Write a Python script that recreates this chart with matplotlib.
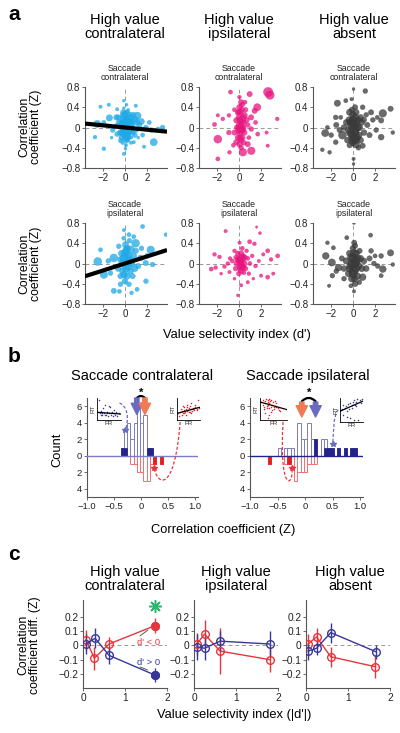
import matplotlib
matplotlib.use("Agg")
import matplotlib.pyplot as plt
import numpy as np
from matplotlib.patches import FancyArrowPatch, PathPatch
from matplotlib.path import Path

plt.rcParams['font.family'] = ['Liberation Sans', 'DejaVu Sans']

# ---------------- panel a : (d', Z, size) per cell ----------------
hvc_sc = [(-2.5,0.07,18),(-2.7,-0.19,5),(-1.9,-0.42,5),(-2.2,0.41,4),(-1.45,0.45,4),(-1.9,0.1,6),(-1.4,0.19,14),
          (-1.1,-0.05,8),(-0.78,0.2,10),(-0.7,0.36,4),(-0.7,-0.13,8),(-0.5,0.1,14),(-0.4,-0.26,6),(-0.3,0.05,20),
          (-0.3,-0.1,10),(-0.2,0.25,8),(-0.2,-0.3,5),(-0.1,0.53,3),(-0.1,0.38,3),(-0.09,-0.52,4),(-0.05,0.15,12),
          (-0.05,-0.05,20),(0.0,0.1,16),(0.0,-0.2,12),(0.05,0.3,6),(0.1,0.0,22),(0.1,-0.35,4),(0.15,0.2,10),
          (0.2,0.3,8),(0.2,-0.1,18),(0.25,0.05,14),(0.3,-0.2,10),(0.35,0.12,12),(0.36,-0.19,6),(0.4,0.0,16),
          (0.45,-0.08,10),(0.5,0.2,14),(0.55,-0.3,4),(0.6,0.1,8),(0.66,0.14,8),(0.7,-0.1,10),(0.8,-0.29,4),
          (0.9,0.15,16),(0.98,0.43,4),(1.0,-0.05,8),(1.12,0.23,20),(1.3,0.05,10),(1.5,0.12,12),(1.6,-0.15,6),
          (1.73,-0.38,4),(1.9,0.0,8),(2.2,0.1,6),(2.4,-0.05,8),(2.6,-0.29,18),(3.0,-0.03,6),(3.4,0.0,8),
          (-0.6,0.0,3),(-0.35,0.2,3),(0.15,0.45,3),(0.3,0.35,3),(0.6,-0.2,3),(-0.15,-0.15,3),(0.8,0.05,3),
          (-0.8,0.05,3),(0.05,-0.42,3),(0.25,-0.25,3),(1.2,-0.2,3),(-1.2,-0.2,3),(0.0,0.05,25),(0.1,0.1,25),
          (-0.1,-0.1,25),(0.2,0.15,20),(0.3,-0.05,20),(-0.2,0.1,18),(0.05,-0.15,20),(0.4,0.25,12),(-0.4,-0.1,12),
          (0.6,-0.05,14),(0.15,-0.25,12),(-0.15,0.3,10),(0.5,0.05,16),(-0.6,0.2,10),(0.75,0.25,10),(0.0,0.22,14),
          (0.25,-0.15,16),(-0.3,-0.2,10),(0.9,-0.15,8),(1.1,0.1,10)]
hvi_sc = [(2.64,0.70,30),(2.8,0.64,25),(-0.76,0.70,6),(0.05,0.6,5),(0.97,0.66,10),(0.2,0.5,10),(0.06,0.4,12),
          (0.3,0.45,8),(1.66,0.4,18),(1.42,0.33,10),(-0.9,0.24,5),(-1.9,0.24,4),(-1.45,0.17,5),(-2.2,0.06,6),
          (3.46,0.17,5),(0.5,0.24,12),(1.1,0.2,10),(-0.24,0.14,10),(0.06,0.04,18),(0.36,-0.03,14),(-0.39,-0.1,10),
          (-0.9,-0.1,8),(1.12,-0.03,8),(1.7,-0.13,6),(2.5,-0.1,4),(-1.9,-0.23,22),(-0.24,-0.29,10),(0.06,-0.33,12),
          (0.8,-0.33,10),(2.6,-0.36,4),(-0.85,-0.49,5),(0.36,-0.49,20),(1.12,-0.46,20),(-1.9,-0.62,6),
          (0.0,0.2,12),(0.2,0.1,14),(0.1,-0.1,16),(0.3,-0.2,12),(-0.1,0.3,10),(0.4,0.1,12),(0.15,0.3,10),
          (-0.1,-0.2,10),(0.25,-0.05,14),(0.5,-0.1,10),(0.0,-0.05,14),(0.6,0.35,8),(0.7,0.15,10),(0.45,-0.3,8),
          (-0.2,0.0,8),(0.8,0.05,8),(0.35,0.2,12),(0.1,0.15,14),(0.2,-0.25,10),(-0.4,0.35,6),(0.9,-0.2,6),
          (0.55,0.5,6),(0.0,0.0,12),(1.5,0.1,6),(-0.5,-0.35,6),(0.25,0.35,10),(0.1,-0.2,12),(0.35,0.0,12),
          (0.0,0.3,10),(0.2,-0.4,8)]
hva_sc = [(0.06,0.76,3),(1.12,0.72,8),(-1.4,0.48,14),(-0.64,0.53,6),(-0.12,0.56,4),(0.88,0.4,8),(1.64,0.3,10),
          (2.7,0.28,20),(3.4,0.37,10),(-1.55,0.2,8),(-1.1,0.2,6),(2.55,0.14,10),(-2.3,0.0,6),(3.6,-0.1,5),
          (-2.5,-0.11,18),(-1.96,-0.15,8),(-0.94,-0.15,22),(2.55,-0.19,12),(-1.55,-0.29,8),(-2.76,-0.44,5),
          (-2.1,-0.49,5),(0.27,-0.33,20),(0.88,-0.36,10),(0.06,-0.62,4),(0.06,-0.72,3),
          (-0.3,0.3,14),(0.0,0.25,16),(0.3,0.3,12),(0.5,0.15,14),(-0.2,0.1,20),(0.1,0.05,25),(0.2,-0.1,22),
          (-0.1,-0.15,22),(0.4,-0.2,16),(0.0,-0.3,14),(-0.4,-0.05,16),(0.6,0.0,14),(0.8,0.1,12),(1.0,-0.1,12),
          (1.3,0.05,10),(1.5,-0.15,10),(-0.6,0.1,12),(-0.8,0.0,12),(-1.2,-0.05,10),(-1.5,0.05,10),(0.2,0.4,10),
          (-0.5,-0.25,12),(0.7,-0.25,12),(1.8,0.15,8),(2.1,-0.05,8),(0.1,-0.2,25),(-0.1,0.05,25),(0.3,0.1,20),
          (1.2,0.25,8),(-0.3,-0.35,10),(0.5,-0.4,8),(2.2,0.2,6),(0.0,0.15,22),(0.2,0.2,18),(-0.2,-0.1,22),
          (0.15,-0.05,25),(0.4,0.0,20),(-0.05,-0.25,18),(0.25,-0.25,18),(0.55,-0.15,14),(-0.35,0.15,14),
          (0.7,0.2,12),(1.0,0.15,10),(-0.1,0.35,10)]
hvc_si = [(2.58,0.99,18),(2.73,0.89,22),(3.7,0.57,5),(1.6,0.73,6),(-0.09,0.66,4),(0.37,0.57,6),(0.8,0.53,6),
          (-2.2,0.27,6),(-0.55,0.34,8),(0.96,0.4,22),(0.06,0.37,14),(0.5,0.27,22),(2.33,0.27,20),(-2.45,0.04,22),
          (-1.0,0.11,22),(-0.4,0.08,12),(1.42,0.11,12),(1.88,0.01,10),(2.5,-0.02,8),(-1.9,-0.22,20),(-1.3,-0.19,8),
          (-0.09,-0.22,16),(0.5,-0.15,14),(1.9,-0.35,8),(-0.4,-0.41,8),(0.37,-0.41,8),(-1.0,-0.54,10),(1.1,-0.51,6),
          (-0.5,-0.55,6),(0.6,-0.58,5),
          (0.0,0.2,20),(0.2,0.1,22),(-0.2,0.0,20),(0.3,-0.05,20),(0.1,-0.1,18),(-0.3,0.2,14),(0.6,0.0,16),
          (0.8,0.15,12),(0.9,-0.1,14),(1.2,-0.05,10),(-0.6,-0.1,12),(0.0,-0.35,12),(0.4,0.45,8),(-0.1,0.5,6),
          (1.5,0.3,8),(-1.5,0.05,8),(0.2,0.3,14),(-0.1,0.1,22),(0.5,0.05,18),(1.0,0.25,10),(2.0,0.15,8),
          (0.1,0.25,18),(0.3,0.15,20),(-0.2,-0.15,14),(0.2,-0.25,14),(0.7,-0.25,10),(-0.4,-0.25,10)]
hvi_si = [(-1.2,0.64,4),(1.6,0.72,2),(1.9,0.6,3),(0.06,0.41,4),(0.97,0.43,6),(1.4,0.39,5),(2.6,0.25,6),
          (-2.2,0.18,5),(-1.75,0.13,5),(2.2,0.18,4),(3.5,0.15,6),(2.9,0.08,5),(-2.5,-0.11,6),(-2.1,-0.08,5),
          (-1.3,-0.06,5),(-0.85,-0.17,4),(3.1,-0.2,4),(2.6,-0.27,6),(2.0,-0.24,4),(0.8,-0.37,4),(0.2,-0.43,4),
          (-0.09,-0.63,3),(1.3,-0.3,3),(-1.6,-0.2,3),(-0.4,-0.3,3),
          (0.0,0.1,10),(0.2,0.05,12),(0.3,-0.05,12),(0.1,-0.1,10),(-0.2,0.0,10),(0.4,0.15,8),(0.5,0.0,10),
          (-0.1,0.2,8),(0.6,-0.1,8),(0.2,0.2,10),(-0.3,-0.1,8),(0.8,0.1,6),(1.0,0.0,6),(1.2,0.15,5),(-0.6,0.05,6),
          (-0.8,0.1,5),(0.3,0.3,6),(0.0,-0.2,8),(0.7,0.25,5),(1.5,-0.05,5),(-1.0,0.0,5),(0.15,0.0,14),
          (0.35,0.08,12),(0.45,-0.18,6),(-0.4,0.25,5),(1.8,0.05,4),(0.9,-0.2,5),(0.05,0.05,14),(0.25,0.12,12),
          (0.1,-0.05,12),(0.4,-0.08,10),(-0.1,0.08,10),(0.55,0.12,8),(0.2,-0.15,10),(-0.25,0.12,8)]
hva_si = [(0.09,0.8,3),(1.6,0.56,6),(-0.55,0.51,6),(0.12,0.41,10),(-2.3,0.41,5),(-1.76,0.31,6),(3.4,0.21,14),
          (2.55,0.15,8),(1.64,0.25,8),(-2.45,0.15,16),(-1.9,0.02,18),(-1.3,-0.08,16),(2.7,-0.11,16),(2.24,-0.05,8),
          (3.6,-0.02,5),(-1.85,-0.24,8),(-0.8,-0.3,8),(0.88,-0.27,16),(0.58,-0.37,8),(-0.18,-0.44,6),
          (-2.15,-0.44,4),(2.55,-0.24,6),(0.1,-0.55,4),
          (0.0,0.1,22),(0.2,0.0,25),(-0.2,-0.05,22),(0.1,-0.15,25),(0.3,0.2,16),(-0.3,0.2,14),(0.5,-0.05,18),
          (0.7,0.1,14),(0.4,-0.25,16),(-0.4,-0.2,14),(-0.6,0.05,14),(1.0,0.05,12),(1.2,-0.1,12),(1.5,0.1,10),
          (-1.0,0.1,10),(0.0,0.3,12),(0.2,0.35,10),(0.6,0.25,10),(-0.1,-0.3,16),(0.8,-0.1,14),(1.9,0.0,8),
          (-0.8,-0.1,12),(0.3,0.05,25),(-0.05,0.0,25),(0.15,-0.3,14),(2.0,0.15,6),(-1.5,-0.15,8),
          (0.1,0.2,20),(0.25,-0.1,22),(-0.15,0.12,20),(0.0,-0.2,22),(0.45,0.1,16),(0.2,-0.4,12),(-0.3,-0.1,16)]
# regression fits (slope, intercept)
fit_hvc_sc = (-0.0216, 0.0)
fit_hvc_si = (0.07, 0.0)

# ---------------- panel b : histograms ----------------
b1_centers = [-0.35, -0.29, -0.23, -0.17, -0.11, -0.05, 0.01, 0.07, 0.13, 0.19, 0.25, 0.31, 0.37]
b1_blue = [1, 3, 4, 2, 4, 6, 4, 5, 1, 1, 0, 0, 0]
b1_blue_sig = [1, 1, 0, 0, 0, 0, 0, 0, 1, 1, 0, 0, 0]
b1_red = [0, 0, 0, 1, 1, 2, 2, 3, 3, 1, 1, 0, 1]
b1_red_sig = [0, 0, 0, 0, 0, 0, 0, 0, 0, 0, 1, 0, 1]

b2_centers = [-0.65, -0.59, -0.53, -0.47, -0.41, -0.35, -0.29, -0.23, -0.17, -0.11, -0.05, 0.01, 0.07, 0.13,
              0.19, 0.25, 0.31, 0.37, 0.43, 0.49, 0.55, 0.61, 0.67, 0.73, 0.79, 0.85, 0.91, 0.97]
b2_blue = [0, 0, 0, 1, 0, 1, 1, 1, 0, 4, 2, 2, 4, 2, 2, 0, 2, 2, 1, 1, 0, 1, 0, 1, 0, 1, 1, 0]
b2_blue_sig = [0, 0, 0, 0, 0, 0, 0, 0, 0, 0, 0, 0, 0, 0, 2, 0, 0, 1, 1, 1, 0, 1, 0, 1, 0, 1, 1, 0]
b2_red = [1, 0, 0, 0, 0, 1, 1, 0, 3, 2, 2, 2, 1, 1, 1, 0, 0, 0, 0, 0, 0, 0, 0, 0, 0, 0, 0, 0]
b2_red_sig = [1, 0, 0, 0, 0, 0, 1, 0, 0, 0, 0, 0, 0, 0, 0, 0, 0, 0, 0, 0, 0, 0, 0, 0, 0, 0, 0, 0]

# median arrows (orange = red pop., blue = blue pop.)
b1_med_orange, b1_med_blue = 0.07, -0.08
b2_med_orange, b2_med_blue = -0.06, 0.19

# example neurons (FR, RT) for insets
ex1_fr = [0.05,0.1,0.12,0.18,0.22,0.25,0.3,0.33,0.38,0.42,0.45,0.5,0.55,0.58,0.62,0.66,0.7,0.75,0.8,0.85,0.9,
          0.2,0.35,0.48,0.6,0.15,0.4,0.72]
ex1_rt = [0.35,0.9,0.3,0.4,0.25,0.55,0.3,0.7,0.25,0.35,0.2,0.3,0.6,0.25,0.35,0.2,0.3,0.25,0.35,0.2,0.3,
          0.3,0.25,0.65,0.3,0.25,0.3,0.45]
ex2_fr = [0.05,0.1,0.15,0.2,0.22,0.25,0.3,0.32,0.35,0.4,0.42,0.45,0.5,0.52,0.55,0.6,0.62,0.65,0.7,0.75,0.8,
          0.85,0.9,0.95,0.3,0.38,0.48,0.58,0.68,0.78,0.88,0.18,0.28,0.45,0.6]
ex2_rt = [0.3,0.2,0.35,0.25,0.4,0.3,0.45,0.6,0.35,0.5,0.7,0.4,0.55,0.35,0.65,0.5,0.75,0.4,0.55,0.45,0.6,
          0.5,0.9,0.55,0.3,0.25,0.45,0.35,0.5,0.7,0.45,0.5,0.65,0.6,0.3]
ex3_fr = [0.05,0.1,0.12,0.15,0.18,0.2,0.22,0.25,0.28,0.3,0.32,0.35,0.38,0.4,0.42,0.45,0.48,0.5,0.55,0.6,0.65,
          0.7,0.75,0.2,0.3,0.4,0.5,0.15,0.25,0.35,0.45,0.6,0.35,0.55,0.28]
ex3_rt = [0.8,0.7,0.9,0.6,0.85,0.75,0.95,0.65,0.8,0.9,0.55,0.75,0.85,0.6,0.9,0.7,0.8,0.5,0.65,0.75,0.55,
          0.45,0.4,0.3,0.1,0.35,0.6,0.5,0.55,0.25,0.45,0.6,0.95,0.85,0.7]
ex4_fr = [0.05,0.1,0.15,0.2,0.25,0.3,0.35,0.4,0.45,0.5,0.55,0.6,0.65,0.7,0.75,0.8,0.85,0.9,0.95,0.3,0.45,
          0.6,0.12,0.7,0.5]
ex4_rt = [0.5,0.55,0.3,0.6,0.65,0.2,0.75,0.55,0.8,0.6,0.85,0.9,0.7,0.85,0.95,0.1,0.9,0.8,0.95,0.45,0.15,
          0.1,0.7,0.65,0.7]
ex_fits = [(-0.08, 0.35), (0.28, 0.3), (-0.35, 0.82), (0.42, 0.45)]

# ---------------- panel c ----------------
c_titles = ['High value\ncontralateral', 'High value\nipsilateral', 'High value\nabsent']
c_red_x = [[0.07, 0.27, 0.62, 1.72], [0.07, 0.25, 0.62, 1.8], [0.05, 0.25, 0.59, 1.65]]
c_red_y = [[0.04, -0.09, 0.01, 0.14], [0.01, 0.08, -0.04, -0.10], [0.01, 0.06, -0.08, -0.15]]
c_red_e = [[0.07, 0.08, 0.05, 0.05], [0.08, 0.10, 0.16, 0.09], [0.07, 0.06, 0.07, 0.08]]
c_blue_x = [[0.07, 0.29, 0.62, 1.72], [0.07, 0.25, 0.62, 1.8], [0.05, 0.25, 0.59, 1.67]]
c_blue_y = [[0.01, 0.05, -0.07, -0.21], [-0.01, -0.02, 0.03, 0.01], [-0.04, -0.02, 0.09, -0.045]]
c_blue_e = [[0.07, 0.07, 0.06, 0.05], [0.09, 0.08, 0.07, 0.09], [0.06, 0.05, 0.07, 0.05]]

CYAN, MAG, GRAY = '#1fa9e6', '#e8157f', '#3a3a3a'
RED, NAVY = '#e8353b', '#383898'
LBLUE, DBLUE = '#7c7cc8', '#23238a'
ORANGE, PURP = '#f07a55', '#6a6ac0'
SPINE = '#555555'

W, H = 400, 733
fig = plt.figure(figsize=(4, 7.33), dpi=100)


def px_axes(left, top, w, h):
    return fig.add_axes([left / W, 1 - (top + h) / H, w / W, h / H])


def style(ax, fs=7):
    for sp in ['top', 'right']:
        ax.spines[sp].set_visible(False)
    for sp in ['left', 'bottom']:
        ax.spines[sp].set_color(SPINE)
        ax.spines[sp].set_linewidth(0.8)
    ax.tick_params(length=2, width=0.6, color=SPINE, labelsize=fs, pad=1.5, labelcolor='#222222')


def ftext(x, y, s, **kw):
    fig.text(x / W, 1 - y / H, s, ha='center', va='center', **kw)


# ---------- panel a ----------
col_left = [85, 199, 313]
col_mid = [125, 239, 354]
rows = [(87, [hvc_sc, hvi_sc, hva_sc], [fit_hvc_sc, None, None], 'contralateral', 73),
        (223, [hvc_si, hvi_si, hva_si], [fit_hvc_si, None, None], 'ipsilateral', 209)]
colors = [CYAN, MAG, GRAY]
for top, data, fits, sub, suby in rows:
    for j in range(3):
        ax = px_axes(col_left[j], top, 82, 81)
        style(ax)
        x, y, s = np.array(data[j]).T
        ax.axhline(0, color='#999999', lw=0.7, ls=(0, (4, 3)), zorder=0)
        ax.axvline(0, color='#999999', lw=0.7, ls=(0, (4, 3)), zorder=0)
        ax.scatter(x, y, s=s * 1.5, color=colors[j], alpha=0.75, linewidths=0.3, edgecolors=colors[j], zorder=2)
        ax.set_xlim(-3.6, 3.8)
        ax.set_ylim(-0.8, 0.8)
        if fits[j] is not None:
            xs = np.array(ax.get_xlim())
            ax.plot(xs, fits[j][0] * xs + fits[j][1], color='k', lw=3, zorder=3, solid_capstyle='butt')
        ax.set_xticks([-2, 0, 2])
        ax.set_xticklabels(['\u22122', '0', '2'])
        ax.set_yticks([-0.8, -0.4, 0, 0.4, 0.8])
        ax.set_yticklabels(['\u22120.8', '\u22120.4', '0', '0.4', '0.8'])
        ftext(col_mid[j], suby, 'Saccade\n' + sub, fontsize=6.3, linespacing=0.95, color='#222222')

for j, t in enumerate(['High value\ncontralateral', 'High value\nipsilateral', 'High value\nabsent']):
    ftext(col_mid[j], 27, t, fontsize=10.5, linespacing=0.95)
ftext(30, 127, 'Correlation\ncoefficient (Z)', fontsize=8.8, rotation=90, linespacing=1.0)
ftext(30, 264, 'Correlation\ncoefficient (Z)', fontsize=8.8, rotation=90, linespacing=1.0)
ftext(237, 335, "Value selectivity index (d')", fontsize=9.3)
fig.text(8 / W, 1 - 15 / H, 'a', fontsize=15, fontweight='bold', va='center')


# ---------- panel b ----------
def hist_panel(ax, c, blue, blue_sig, red, red_sig, zcol):
    c = np.array(c)
    ax.bar(c, blue, width=0.06, color='white', edgecolor=LBLUE, lw=0.7, zorder=2)
    ax.bar(c, blue_sig, width=0.06, color=DBLUE, edgecolor=DBLUE, lw=0.5, zorder=3)
    ax.bar(c, -np.array(red), width=0.06, color='white', edgecolor='#f07070', lw=0.7, zorder=2)
    ax.bar(c, -np.array(red_sig), width=0.06, color='#e0201e', edgecolor='#e0201e', lw=0.5, zorder=3)
    ax.axhline(0, color=zcol, lw=1.0, zorder=4)
    ax.set_xlim(-1, 1.05)
    ax.set_ylim(-5, 7)
    ax.set_yticks([6, 4, 2, 0, -2, -4])
    ax.set_yticklabels(['6', '4', '2', '0', '2', '4'])
    ax.set_xticks([-1, -0.5, 0, 0.5, 1])
    ax.set_xticklabels(['\u22121.0', '\u22120.5', '0', '0.5', '1.0'])
    style(ax, fs=6.8)


def med_arrow(ax, x, y0, y1, color):
    ax.annotate('', xy=(x, y1), xytext=(x, y0), annotation_clip=False,
                arrowprops=dict(arrowstyle='simple,head_width=0.9,head_length=0.9,tail_width=0.35',
                                color=color, mutation_scale=9, shrinkA=0, shrinkB=0))


def sig_arc(ax, x0, x1, y, ystar):
    p = FancyArrowPatch((x0, y), (x1, y), connectionstyle='arc3,rad=-0.5', arrowstyle='-',
                        color='k', lw=1.6, clip_on=False, shrinkA=0, shrinkB=0)
    ax.add_patch(p)
    ax.text((x0 + x1) / 2, ystar, '*', ha='center', va='center', fontsize=8, fontweight='bold', clip_on=False)


def dashed_curve(ax, pts, color):
    path = Path(pts, [Path.MOVETO, Path.CURVE4, Path.CURVE4, Path.CURVE4])
    ax.add_patch(PathPatch(path, fill=False, ec=color, lw=0.9, ls=(0, (2.5, 1.5)), clip_on=False, zorder=5))
    ax.plot(pts[-1][0], pts[-1][1], marker='*', ms=4, color=color, clip_on=False, zorder=6)


def inset(left, top, w, h, fr, rt, fit, color):
    ax = px_axes(left, top, w, h)
    ax.scatter(fr, rt, s=1.2, color=color, linewidths=0, zorder=2)
    xs = np.array([0, 1])
    ax.plot(xs, fit[0] * xs + fit[1], color='k', lw=0.9, zorder=3)
    ax.set_xlim(0, 1)
    ax.set_ylim(0, 1)
    ax.set_xticks([])
    ax.set_yticks([])
    for sp in ['top', 'right']:
        ax.spines[sp].set_visible(False)
    for sp in ['left', 'bottom']:
        ax.spines[sp].set_linewidth(0.6)
    ax.patch.set_alpha(0)
    ax.set_xlabel('FR', fontsize=4.5, labelpad=1, color='#333333')
    ax.set_ylabel('RT', fontsize=4.5, labelpad=1, color='#333333')


b1 = px_axes(87, 398, 111, 99)
hist_panel(b1, b1_centers, b1_blue, b1_blue_sig, b1_red, b1_red_sig, LBLUE)
med_arrow(b1, b1_med_blue, 7.0, 5.0, PURP)
med_arrow(b1, b1_med_orange, 7.0, 5.0, ORANGE)
sig_arc(b1, b1_med_blue, b1_med_orange, 7.0, 7.6)
dashed_curve(b1, [(-0.4, 6.4), (-0.25, 6.0), (-0.22, 4.5), (-0.29, 3.1)], PURP)
dashed_curve(b1, [(0.72, 4.1), (0.62, -4.6), (0.3, -3.6), (0.24, -1.5)], RED)

b2 = px_axes(250, 398, 113, 99)
hist_panel(b2, b2_centers, b2_blue, b2_blue_sig, b2_red, b2_red_sig, DBLUE)
med_arrow(b2, b2_med_orange, 6.5, 4.7, ORANGE)
med_arrow(b2, b2_med_blue, 6.5, 4.7, PURP)
sig_arc(b2, b2_med_orange, b2_med_blue, 6.6, 7.6)
dashed_curve(b2, [(-0.4, 4.1), (-0.48, -4.6), (-0.2, -3.8), (-0.24, -1.5)], RED)
dashed_curve(b2, [(0.6, 5.6), (0.5, 4.6), (0.52, 2.8), (0.5, 1.4)], PURP)

inset(97, 398, 24, 22, ex1_fr, ex1_rt, ex_fits[0], '#3a3aa0')
inset(177, 398, 23, 22, ex2_fr, ex2_rt, ex_fits[1], '#e8202a')
inset(260, 398, 27, 22, ex3_fr, ex3_rt, ex_fits[2], '#e8202a')
inset(340, 398, 23, 24, ex4_fr, ex4_rt, ex_fits[3], '#3a3aa0')

ftext(142, 376, 'Saccade contralateral', fontsize=10.5)
ftext(308, 376, 'Saccade ipsilateral', fontsize=10.5)
ftext(57, 450, 'Count', fontsize=9.3, rotation=90)
ftext(223, 530, 'Correlation coefficient (Z)', fontsize=9.3)
fig.text(8 / W, 1 - 357 / H, 'b', fontsize=15, fontweight='bold', va='center')

# ---------- panel c ----------
c_left = [83, 194, 306]
c_mid = [125, 236, 350]
for j in range(3):
    ax = px_axes(c_left[j], 600, 84, 88)
    style(ax, fs=7.3)
    ax.axhline(0, color='#999999', lw=0.7, ls=(0, (4, 3)), zorder=0)
    ax.errorbar(c_red_x[j], c_red_y[j], yerr=c_red_e[j], color=RED, marker='o', mfc='none', mec=RED,
                ms=5.5, lw=1.0, elinewidth=1.0, capsize=0, zorder=3)
    ax.errorbar(c_blue_x[j], c_blue_y[j], yerr=c_blue_e[j], color=NAVY, marker='o', mfc='none', mec=NAVY,
                ms=5.5, lw=1.0, elinewidth=1.0, capsize=0, zorder=3)
    ax.set_xlim(0, 2)
    ax.set_ylim(-0.3, 0.32)
    ax.set_xticks([0, 1, 2])
    ax.set_yticks([-0.2, -0.1, 0, 0.1, 0.2])
    ax.set_yticklabels(['\u22120.2', '\u22120.1', '0', '0.1', '0.2'])
    ftext(c_mid[j], 579, c_titles[j], fontsize=10.5, linespacing=0.95)
    if j == 0:
        ax.plot(c_red_x[0][-1], c_red_y[0][-1], 'o', color=RED, ms=5.5, zorder=4)
        ax.plot(c_blue_x[0][-1], c_blue_y[0][-1], 'o', color=NAVY, ms=5.5, zorder=4)
        ax.plot(c_red_x[0][-1], 0.275, marker=(8, 2, 0), ms=9, color='#2db56e', mew=1.1, clip_on=False)
        ax.text(1.55, 0.02, "d' < 0", color=RED, fontsize=6.8, ha='center', va='center')
        ax.text(1.55, -0.12, "d' > 0", color=NAVY, fontsize=6.8, ha='center', va='center')
        ax.annotate('', xy=(1.6, 0.12), xytext=(1.3, 0.055),
                    arrowprops=dict(arrowstyle='-', color='#444444', lw=0.6))
        ax.annotate('', xy=(1.6, -0.18), xytext=(1.3, -0.145),
                    arrowprops=dict(arrowstyle='-', color='#444444', lw=0.6))

ftext(29, 645, 'Correlation\ncoefficient diff. (Z)', fontsize=8.8, rotation=90, linespacing=1.0)
ftext(234, 715, "Value selectivity index (|d'|)", fontsize=9.3)
fig.text(8 / W, 1 - 555 / H, 'c', fontsize=15, fontweight='bold', va='center')

fig.savefig('out.png', dpi=100)
